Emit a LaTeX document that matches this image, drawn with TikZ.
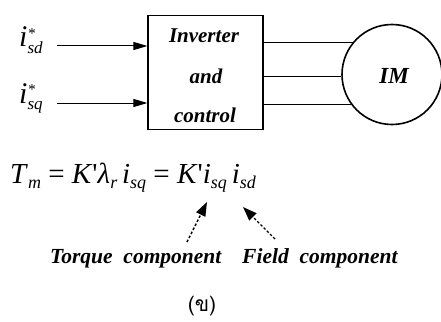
\documentclass[tikz,border=0pt]{standalone}
\usepackage{fontspec}
\setmainfont{Liberation Serif}
\newfontfamily\thaifont[Script=Thai]{Loma}
\usetikzlibrary{arrows.meta}
\newcommand\isub[3]{\textit{#1}\rlap{\raisebox{0.6ex}{\fontsize{15}{15}\selectfont\textit{#2}}}\raisebox{-0.45ex}{\fontsize{17}{17}\selectfont\textit{#3}}}
\newcommand\esub[2]{\textit{#1}\raisebox{-0.4ex}{\fontsize{18}{18}\selectfont\textit{#2}}}
\begin{document}
\begin{tikzpicture}[x=1pt,y=-1pt,
  lbl/.style={font=\bfseries\itshape\fontsize{21}{21}\selectfont, inner sep=0pt},
  note/.style={font=\bfseries\itshape\fontsize{21.5}{21.5}\selectfont, inner sep=0pt},
  inarrow/.style={line width=1pt,-{Triangle[length=14pt,width=8pt]}},
  phase/.style={line width=1pt},
  hint/.style={line width=1.4pt,dash pattern=on 2.5pt off 2pt,-{Triangle[length=14pt,width=10pt]}}]
\useasboundingbox (0,0) rectangle (441,321);
% inverter box
\node[draw,line width=1.2pt,minimum width=115pt,minimum height=114pt,inner sep=0pt] (box) at (205.5,72.5) {};
\node[lbl,anchor=base] (t1) at (204,43) {Inverter};
\node[lbl,anchor=base] (t2) at (206,83) {and};
\node[lbl,anchor=base] (t3) at (205,122) {control};
% motor
\node[draw,circle,line width=1.6pt,minimum size=100pt,inner sep=0pt] (m) at (392,74.5) {};
\node[lbl,anchor=base,font=\bfseries\itshape\fontsize{23}{23}\selectfont] (im) at (394,83) {IM};
\draw[phase] (box.east |- m.141) -- (m.141);
\draw[phase] (box.east |- m.182) -- (m.182);
\draw[phase] (box.east |- m.216) -- (m.216);
% inputs
\node[anchor=base west,inner sep=0pt,font=\fontsize{30}{30}\selectfont] (isd) at (19,47) {\isub{i}{*}{sd}};
\node[anchor=base west,inner sep=0pt,font=\fontsize{30}{30}\selectfont] (isq) at (19,103) {\isub{i}{*}{sq}};
\coordinate (s1) at (57,46);
\coordinate (s2) at (57,103);
\draw[inarrow] (s1) -- (box.west |- s1);
\draw[inarrow] (s2) -- (box.west |- s2);
% equation
\node[anchor=base west,inner sep=0pt,font=\fontsize{29}{29}\selectfont] (eq) at (10,183)
 {\esub{T}{m} = \textit{K}\textquotesingle\esub{λ}{r}\,\esub{i}{sq} = \textit{K}\textquotesingle\esub{i}{sq}\,\esub{i}{sd}};
\coordinate (a1) at (207,202);
\coordinate (a2) at (243,207);
\node[note,anchor=base west] (tq) at (50,263) {Torque\ \ component};
\node[note,anchor=base west] (fd) at (242,263) {Field\ \ component};
\draw[hint] (187,242) -- (a1);
\draw[hint] (275,239) -- (a2);
% caption
\node[font=\thaifont\fontsize{21}{21}\selectfont,inner sep=0pt] (cap) at (202,306) {(ข)};
\end{tikzpicture}
\end{document}
